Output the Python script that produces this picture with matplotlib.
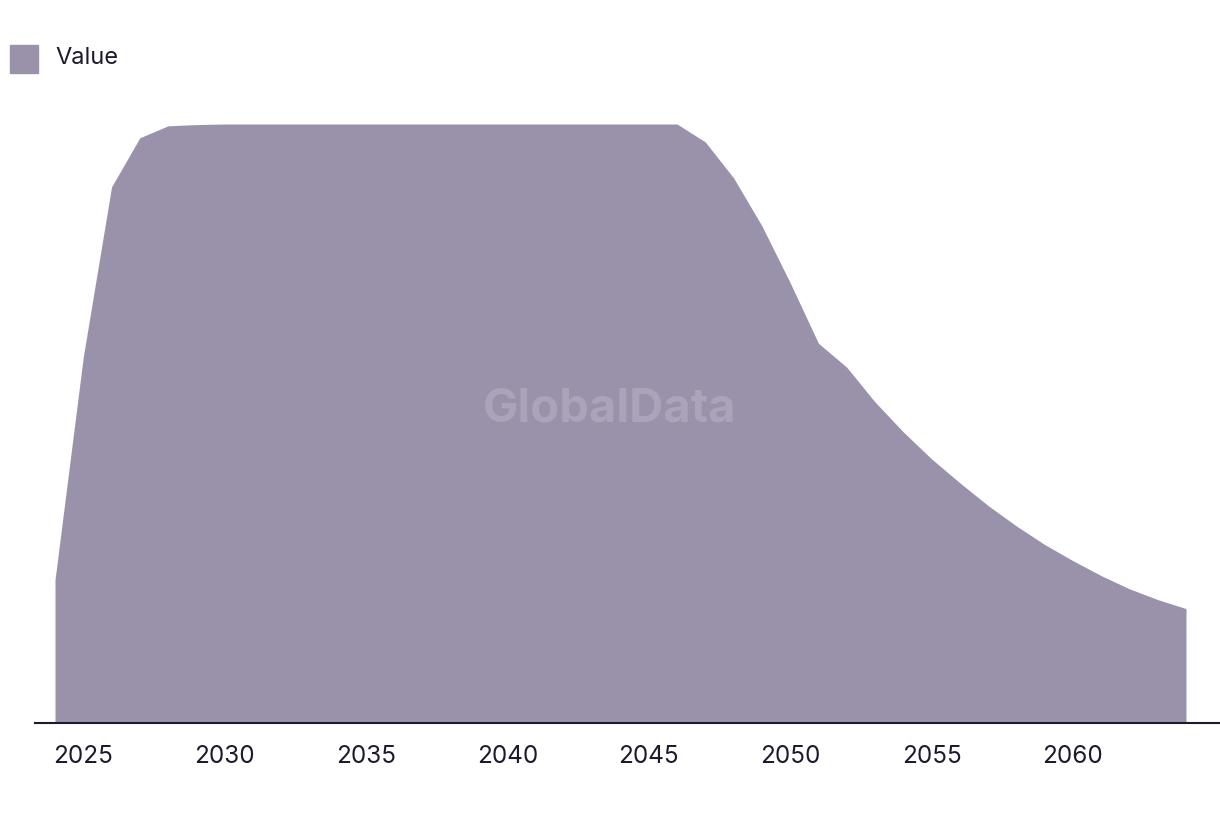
import matplotlib
matplotlib.use("Agg")
import matplotlib.pyplot as plt
from matplotlib.patches import Rectangle

# -------------------------------------------------------
# DATA (scaled so the plateau = 100)
# -------------------------------------------------------
years = list(range(2024, 2065))
values = [
    23.9, 61.1, 89.5, 97.7, 99.7, 99.9,             # 2024-2029
    100, 100, 100, 100, 100, 100, 100, 100, 100,    # 2030-2038
    100, 100, 100, 100, 100, 100, 100, 100,         # 2039-2046
    97.0, 91.0, 83.0, 73.5, 63.4, 59.4, 53.6,       # 2047-2053
    48.6, 44.1, 40.1, 36.3, 32.9, 29.8, 27.1,       # 2054-2060
    24.6, 22.4, 20.6, 19.1,                         # 2061-2064
]
tick_years = [2025, 2030, 2035, 2040, 2045, 2050, 2055, 2060]
series_name = "Value"

AREA_COLOR = "#9a91aa"
TEXT_COLOR = "#1c1b2e"

plt.rcParams["font.family"] = ["Inter", "DejaVu Sans"]

fig = plt.figure(figsize=(12.2, 8.14), dpi=100)
ax = fig.add_axes([35 / 1220, 1 - 723 / 814, 1 - 35 / 1220, (723 - 124) / 814])

ax.fill_between(years, 0, values, color=AREA_COLOR, linewidth=0, clip_on=False)

ax.set_xlim(2024 - 20 / 28.275, 2064 + 34 / 28.275)
ax.set_ylim(0, 100)

for side in ["top", "right", "left"]:
    ax.spines[side].set_visible(False)
ax.spines["bottom"].set_color(TEXT_COLOR)
ax.spines["bottom"].set_linewidth(1.5)
ax.set_yticks([])
ax.set_xticks(tick_years)
ax.set_xticklabels([str(y) for y in tick_years])
ax.tick_params(axis="x", length=0, pad=16, labelsize=17.5, labelcolor=TEXT_COLOR)

# watermark
fig.text(610 / 1220, 1 - 410 / 814, "GlobalData", ha="center", va="center",
         fontsize=34, fontweight="bold", color="#aaa3b9")

# legend
fig.patches.append(Rectangle((10 / 1220, 1 - 73 / 814), 28 / 1220, 28 / 814,
                             transform=fig.transFigure, color=AREA_COLOR))
fig.text(55 / 1220, 1 - 58 / 814, series_name, ha="left", va="center",
         fontsize=17, color=TEXT_COLOR)

plt.savefig("out.png", dpi=100)
plt.close()
